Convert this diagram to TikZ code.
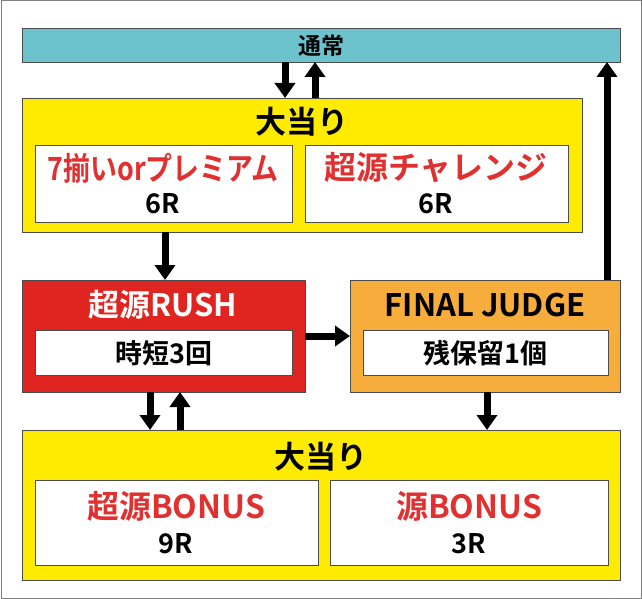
\documentclass[tikz,border=0pt]{standalone}
\usepackage{fontspec}
\usepackage{graphicx}
\setmainfont{Noto Sans CJK JP Bold}
\usetikzlibrary{arrows.meta}
\definecolor{cy}{HTML}{6CC3CE}
\definecolor{ye}{HTML}{FFEB00}
\definecolor{rd}{HTML}{E0241F}
\definecolor{txr}{HTML}{E0302F}
\definecolor{og}{HTML}{F7AD3C}
\begin{document}
\begin{tikzpicture}[x=1pt,y=-1pt,
  box/.style={draw=black!70,line width=1pt},
  wbox/.style={draw=black!70,line width=0.8pt,fill=white},
  arr/.style={line width=7pt,-{Triangle[width=20pt,length=15pt]}},
  big/.style={font=\fontsize{31}{31}\selectfont},
  red/.style={font=\fontsize{32}{32}\selectfont,text=txr},
  sm/.style={font=\fontsize{27}{27}\selectfont}]
\useasboundingbox (0,0) rectangle (642,599);
\draw[black!50,line width=1pt] (1,1) rectangle (641,598);
% top bar
\node[box,fill=cy,minimum width=598pt,minimum height=34pt,anchor=north west,inner sep=0pt,font=\fontsize{23}{23}\selectfont] (top) at (22,28) {通常};
% upper yellow
\node[box,fill=ye,minimum width=560pt,minimum height=134pt,anchor=north west] (y1) at (22,98) {};
\node[big] at (302,122) {大当り};
\node[wbox,minimum width=257pt,minimum height=77pt,anchor=north west] (w1) at (35,145) {};
\node[red] at (163,168) {\scalebox{0.84}[1]{7揃いorプレミアム}};
\node[sm] at (163,204) {6R};
\node[wbox,minimum width=263pt,minimum height=77pt,anchor=north west] (w2) at (305,145) {};
\node[red] at (436,168) {超源チャレンジ};
\node[sm] at (436,204) {6R};
% red box
\node[box,fill=rd,minimum width=283pt,minimum height=112pt,anchor=north west] (rush) at (22,280) {};
\node[big,text=white] at (163,305) {超源RUSH};
\node[wbox,minimum width=257pt,minimum height=45pt,anchor=north west,sm] (w3) at (35,330) {時短3回};
% orange box
\node[box,fill=og,minimum width=270pt,minimum height=112pt,anchor=north west] (fin) at (350,280) {};
\node[big] at (485,305) {FINAL JUDGE};
\node[wbox,minimum width=245pt,minimum height=45pt,anchor=north west,sm] (w4) at (363,330) {残保留1個};
% bottom yellow
\node[box,fill=ye,minimum width=598pt,minimum height=150pt,anchor=north west] (y2) at (22,430) {};
\node[big] at (321,457) {大当り};
\node[wbox,minimum width=283pt,minimum height=85pt,anchor=north west] (w5) at (35,480) {};
\node[red] at (176,506) {超源BONUS};
\node[sm] at (176,544) {9R};
\node[wbox,minimum width=278pt,minimum height=85pt,anchor=north west] (w6) at (330,480) {};
\node[red] at (469,506) {源BONUS};
\node[sm] at (469,544) {3R};
% arrows
\draw[arr] (285,62) -- (285,98);
\draw[arr] (315,98) -- (315,62);
\draw[arr] (165,232) -- (165,280);
\draw[arr] (305,336) -- (350,336);
\draw[arr] (607,280) -- (607,62);
\draw[arr] (150,392) -- (150,430);
\draw[arr] (180,430) -- (180,392);
\draw[arr] (487,392) -- (487,430);
\end{tikzpicture}
\end{document}
